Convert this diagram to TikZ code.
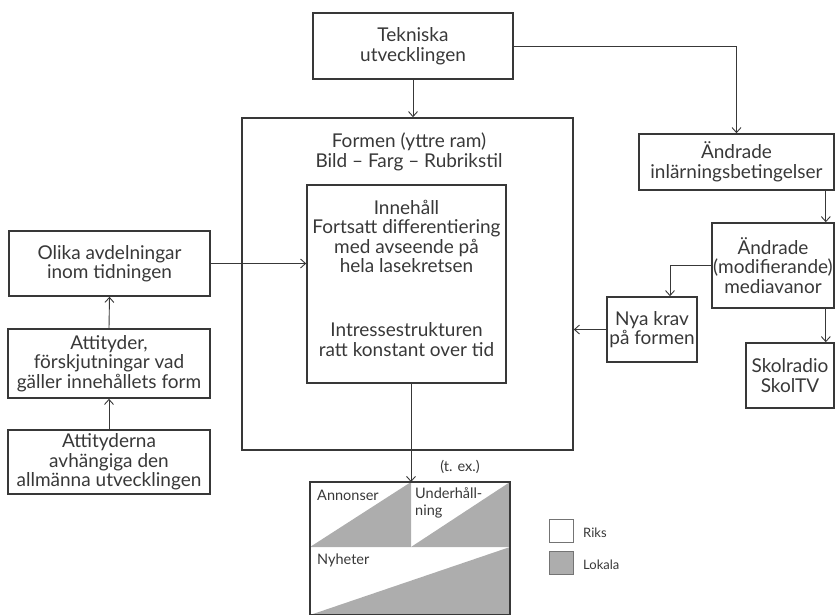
\documentclass[tikz,border=0pt]{standalone}
\usepackage{fontspec}
\setmainfont{Lato}
\usetikzlibrary{arrows.meta}
\definecolor{ink}{rgb}{0.22,0.22,0.22}
\definecolor{lokalgray}{rgb}{0.68,0.68,0.68}

\begin{document}
\begin{tikzpicture}[x=1pt, y=-1pt,
    box/.style={draw=ink, line width=1.6pt, align=center, text=ink, inner sep=0pt,
        font=\fontsize{19}{19.5}\selectfont},
    txt/.style={align=center, text=ink, inner sep=0pt, font=\fontsize{19}{19.5}\selectfont},
    small/.style={text=ink, inner sep=0pt, align=left, font=\fontsize{14.5}{17}\selectfont},
    key/.style={draw=ink!70, line width=0.8pt, minimum width=24pt, minimum height=23pt, inner sep=0pt},
    link/.style={draw=ink, line width=0.9pt},
    arr/.style={link, -{Straight Barb[length=5pt, width=9pt]}}]

    \useasboundingbox (0,0) rectangle (835,614);
    \clip (0,0) rectangle (835,614);

    \node[box, minimum width=200pt, minimum height=66pt] (tekniska) at (413,46) {Tekniska\\utvecklingen};

    \node[box, minimum width=331pt, minimum height=332pt] (formen) at (407.5,284) {};
    \node[txt] (formtext) at (409,152) {Formen (yttre ram)\\Bild – Farg – Rubrikstil};
    \node[box, minimum width=199pt, minimum height=198pt] (innehall) at (406.5,284) {};
    \node[txt] (innehalltext) at (406.5,236.5) {Innehåll\\Fortsatt differentiering\\med avseende på\\hela lasekretsen};
    \node[txt] (intresse) at (406.5,339.5) {Intressestrukturen\\ratt konstant over tid};

    \node[box, minimum width=195pt, minimum height=56pt] (inlarning) at (736.5,162) {Ändrade\\inlärningsbetingelser};
    \node[box, minimum width=122pt, minimum height=85pt] (mediavanor) at (773,265.5) {Ändrade\\(modifierande)\\mediavanor};
    \node[box, minimum width=88pt, minimum height=65pt] (skolradio) at (790,375.5) {Skolradio\\SkolTV};
    \node[box, minimum width=90pt, minimum height=65pt] (nyakrav) at (652,329.5) {Nya krav\\på formen};

    \node[box, minimum width=201pt, minimum height=65pt] (avdelningar) at (109.5,263.5) {Olika avdelningar\\inom tidningen};
    \node[box, minimum width=202pt, minimum height=69pt] (attityder) at (109,363.5) {Attityder,\\förskjutningar vad\\gäller innehållets form};
    \node[box, minimum width=202pt, minimum height=64pt] (allmanna) at (109,462) {Attityderna\\avhängiga den\\allmänna utvecklingen};

    \fill[lokalgray] (310,547) -- (411,482) -- (411,547) -- cycle;
    \fill[lokalgray] (411,547) -- (510,482) -- (510,547) -- cycle;
    \fill[lokalgray] (310,615) -- (510,547) -- (510,615) -- cycle;
    \draw[ink, line width=1.6pt] (310,482) rectangle (510,615);
    \coordinate (charttop) at (411,482);
    \node[small, anchor=west] (annonser) at (317,495) {Annonser};
    \node[small, anchor=north west] (underhall) at (415,487) {Underhåll-\\ning};
    \node[small, anchor=west] (nyheter) at (317,560) {Nyheter};
    \node[small] (tex) at (460,467) {(t. ex.)};

    \node[key, fill=white] (riks) at (561,531) {};
    \node[key, fill=lokalgray] (lokala) at (561,563) {};
    \node[small, anchor=west, font=\fontsize{13}{15}\selectfont] at (583,533) {Riks};
    \node[small, anchor=west, font=\fontsize{13}{15}\selectfont] at (583,565) {Lokala};

    \draw[arr] (tekniska.south) -- (tekniska.south |- formen.north);
    \draw[arr] (tekniska.east) -| (inlarning.north);
    \draw[arr] ([xshift=-9pt]inlarning.south east) -- ([xshift=-9pt]mediavanor.north east);
    \draw[arr] ([xshift=-9pt]mediavanor.south east) -- ([xshift=-9pt]mediavanor.south east |- skolradio.north);
    \draw[arr] (mediavanor.west) -| ([xshift=18pt]nyakrav.north);
    \draw[arr] (nyakrav.west) -- (formen.east |- nyakrav.west);
    \draw[arr] (avdelningar.east) -- (innehall.west |- avdelningar.east);
    \draw[arr] (attityder.north) -- (avdelningar.south);
    \draw[arr] (allmanna.north) -- (attityder.south);
    \draw[arr] (innehall.south -| charttop) -- (charttop);

\end{tikzpicture}
\end{document}
